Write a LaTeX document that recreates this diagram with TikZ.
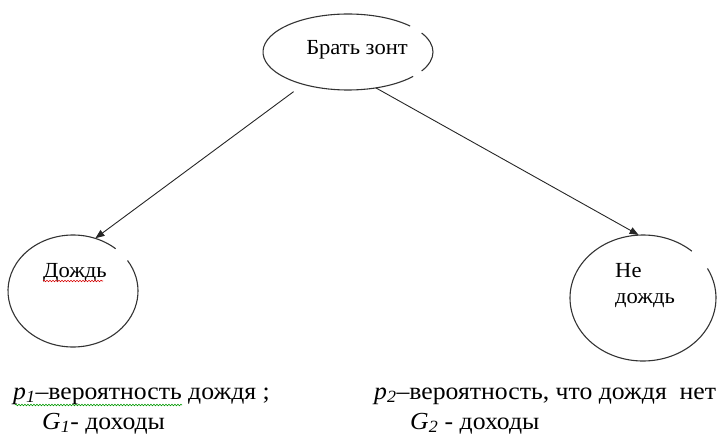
\documentclass[tikz,border=0pt]{standalone}
\usepackage{fontspec}
\setmainfont[FakeStretch=1.05]{Liberation Serif}
\usetikzlibrary{arrows.meta,shapes.geometric,decorations.pathmorphing}
\begin{document}
\begin{tikzpicture}[x=1pt,y=-1pt,
  outline/.style={draw=black!80,line width=1.1pt},
  slot/.style={ellipse,draw=none,inner sep=0pt},
  link/.style={draw=black!85,line width=0.9pt,-{Triangle[length=9pt,width=7pt]}},
  label/.style={inner sep=0pt,font=\fontsize{21.5}{24}\selectfont},
  note/.style={inner sep=0pt,anchor=base west,font=\fontsize{24.5}{28}\selectfont},
  wave/.style={line width=0.6pt,decorate,decoration={snake,amplitude=0.8pt,segment length=3pt}}]
  \useasboundingbox (0,0) rectangle (719,436);

  % outcome slots
  \node[slot,minimum width=170pt,minimum height=76pt] (top) at (348,52) {};
  \node[slot,minimum width=130pt,minimum height=112pt] (rain) at (73,291) {};
  \node[slot,minimum width=146pt,minimum height=126pt] (norain) at (643,298) {};

  % outlines, broken where the text frames sit
  \draw[outline] (top.center) ++(43:85pt and 38pt)
    arc[start angle=43,end angle=320,x radius=85pt,y radius=38pt];
  \draw[outline] (top.center) ++(-30:85pt and 38pt)
    arc[start angle=-30,end angle=30,x radius=85pt,y radius=38pt];
  \draw[outline] (rain.center) ++(49:65pt and 56pt)
    arc[start angle=49,end angle=393,x radius=65pt,y radius=56pt];
  \draw[outline] (norain.center) ++(48:73pt and 63pt)
    arc[start angle=48,end angle=388,x radius=73pt,y radius=63pt];

  % texts inside
  \node[label,anchor=base] (ttop) at (357,55) {Брать зонт};
  \node[label,anchor=base] (train) at (75,277) {Дождь};
  \node[label,anchor=base west] (tno1) at (615,277) {Не};
  \node[label,anchor=base west] (tno2) at (615,303) {дождь};

  % branches
  \draw[link,shorten <=12pt] (top.216) -- (rain.67);
  \draw[link] (top.308) -- (norain.94);

  % spelling marks
  \draw[wave,red!85!black] (train.base west) ++(0,4) -- ++(60,0);
  \node[note] (p1) at (13,399) {\textit{p}\textsubscript{\textit{1}}–вероятность дождя ;};
  \node[note] (g1) at (42,429) {\textit{G}\textsubscript{\textit{1}}- доходы};
  \draw[wave,green!60!black] (p1.base west) ++(2,6) -- ++(167,0);

  \node[note] (p2) at (374,399) {\textit{p}\textsubscript{\textit{2}}–вероятность, что дождя\ \ нет};
  \node[note] (g2) at (410,429) {\textit{G}\textsubscript{\textit{2}} - доходы};
\end{tikzpicture}
\end{document}
